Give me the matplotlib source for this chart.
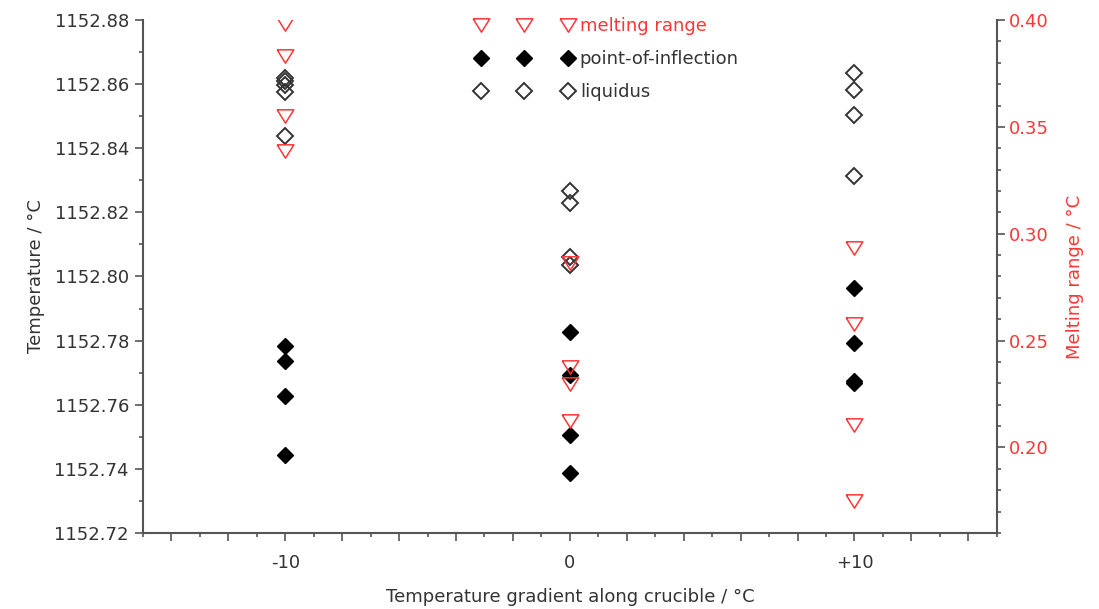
import matplotlib
matplotlib.use("Agg")
import matplotlib.pyplot as plt
from matplotlib.ticker import MultipleLocator, FuncFormatter

plt.rcParams['font.family'] = ['DejaVu Sans']

# ---- data ----
gradients = [-10, 0, 10]
xtick_labels = {-10: "-10", 0: "0", 10: "+10"}

liq_x = [-10, -10, -10, -10, -10, 0, 0, 0, 0, 10, 10, 10, 10]
liq_y = [1152.8619, 1152.8610, 1152.8597, 1152.8575, 1152.8438,
         1152.8267, 1152.8229, 1152.8061, 1152.8036,
         1152.8635, 1152.8582, 1152.8504, 1152.8313]

poi_x = [-10, -10, -10, -10, 0, 0, 0, 0, 10, 10, 10, 10]
poi_y = [1152.7783, 1152.7736, 1152.7627, 1152.7443,
         1152.7827, 1152.7693, 1152.7506, 1152.7387,
         1152.7964, 1152.7792, 1152.7674, 1152.7668]

mr_x = [-10, -10, -10, -10, 0, 0, 0, 0, 10, 10, 10, 10]
mr_y = [0.398, 0.383, 0.355, 0.3386,
        0.2862, 0.2375, 0.2295, 0.2122,
        0.2932, 0.2576, 0.2103, 0.1747]

RED = '#ff3535'
GRAY = '#333333'
SPINE = '#555555'
FS = 13

fig = plt.figure(figsize=(10.99, 6.09), dpi=100)
ax = fig.add_axes([0.130, 0.125, 0.777, 0.842])
ax2 = ax.twinx()

tri = [(-1, 0.8), (1, 0.8), (0, -0.8), (-1, 0.8)]

h_mr, = ax2.plot(mr_x, mr_y, linestyle='none', marker=tri, markersize=12,
                 markerfacecolor='none', markeredgecolor=RED, markeredgewidth=1.1,
                 label='melting range')
h_poi, = ax.plot(poi_x, poi_y, linestyle='none', marker='D', markersize=8.5,
                 markerfacecolor='black', markeredgecolor='black', markeredgewidth=1.0,
                 label='point-of-inflection')
h_liq, = ax.plot(liq_x, liq_y, linestyle='none', marker='D', markersize=8.5,
                 markerfacecolor='none', markeredgecolor=GRAY, markeredgewidth=1.4,
                 label='liquidus')

ax.set_xlim(-15, 15)
ax.set_ylim(1152.72, 1152.88)
ax2.set_ylim(0.16, 0.40)

ax.xaxis.set_major_locator(MultipleLocator(2))
ax.xaxis.set_minor_locator(MultipleLocator(1))
ax.xaxis.set_major_formatter(FuncFormatter(lambda v, p: xtick_labels.get(int(round(v)), "")))
ax.yaxis.set_major_locator(MultipleLocator(0.02))
ax.yaxis.set_minor_locator(MultipleLocator(0.01))
ax.yaxis.set_major_formatter(FuncFormatter(lambda v, p: f"{v:.2f}"))
ax2.yaxis.set_major_locator(MultipleLocator(0.05))
ax2.yaxis.set_minor_locator(MultipleLocator(0.01))
ax2.yaxis.set_major_formatter(FuncFormatter(lambda v, p: f"{v:.2f}"))

for a in (ax, ax2):
    a.spines['top'].set_visible(False)
    for s in a.spines.values():
        s.set_color(SPINE)
        s.set_linewidth(1.5)
ax.spines['right'].set_visible(False)
ax2.spines['left'].set_visible(False)
ax2.spines['bottom'].set_visible(False)

ax.tick_params(axis='both', which='major', direction='out', length=6, width=1.2,
               color=SPINE, labelsize=FS, labelcolor=GRAY, pad=4)
ax.tick_params(axis='both', which='minor', direction='out', length=3, width=1.2, color=SPINE)
ax2.tick_params(axis='y', which='major', direction='out', length=6, width=1.2,
                color=SPINE, labelsize=FS, labelcolor=RED, pad=3)
ax2.tick_params(axis='y', which='minor', direction='out', length=3, width=1.2, color=SPINE)
ax.tick_params(axis='x', which='major', pad=9)

ax.set_xlabel('Temperature gradient along crucible / °C', fontsize=FS, color=GRAY, labelpad=12)
ax.set_ylabel('Temperature / °C', fontsize=FS, color=GRAY, labelpad=7)
ax2.set_ylabel('Melting range / °C', fontsize=FS, color=RED, labelpad=12)

leg = ax2.legend(handles=[h_mr, h_poi, h_liq], numpoints=3, frameon=False,
                 loc='upper left', bbox_to_anchor=(0.381, 1.0196), fontsize=FS,
                 handlelength=5.42, handletextpad=0.36, labelspacing=0.82,
                 borderaxespad=0)
for t, c in zip(leg.get_texts(), [RED, GRAY, GRAY]):
    t.set_color(c)

fig.savefig('out.png', dpi=100)
